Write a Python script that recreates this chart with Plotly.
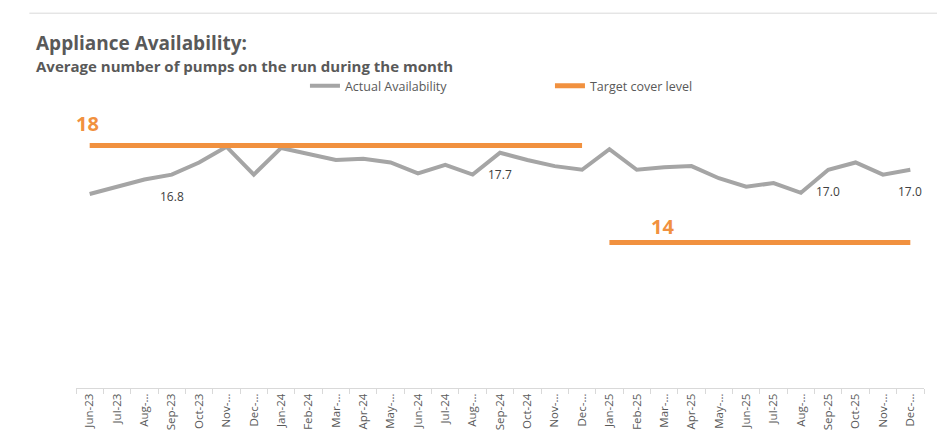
import plotly.graph_objects as go

# Monthly categories, Jun-23 .. Dec-25
months = ["Jun-23", "Jul-23", "Aug-23", "Sep-23", "Oct-23", "Nov-23", "Dec-23",
          "Jan-24", "Feb-24", "Mar-24", "Apr-24", "May-24", "Jun-24", "Jul-24",
          "Aug-24", "Sep-24", "Oct-24", "Nov-24", "Dec-24",
          "Jan-25", "Feb-25", "Mar-25", "Apr-25", "May-25", "Jun-25", "Jul-25",
          "Aug-25", "Sep-25", "Oct-25", "Nov-25", "Dec-25"]

# Axis labels as shown (long month names truncated)
tick_labels = ["Jun-23", "Jul-23", "Aug-…", "Sep-23", "Oct-23", "Nov-…", "Dec-…",
               "Jan-24", "Feb-24", "Mar-…", "Apr-24", "May-…", "Jun-24", "Jul-24",
               "Aug-…", "Sep-24", "Oct-24", "Nov-…", "Dec-…",
               "Jan-25", "Feb-25", "Mar-…", "Apr-25", "May-…", "Jun-25", "Jul-25",
               "Aug-…", "Sep-25", "Oct-25", "Nov-…", "Dec-…"]

# Average pumps on the run per month
actual = [16.0, 16.3, 16.6, 16.8, 17.3, 17.95, 16.8,
          17.9, 17.65, 17.4, 17.45, 17.3, 16.85, 17.2,
          16.8, 17.7, 17.4, 17.15, 17.0,
          17.85, 17.0, 17.1, 17.15, 16.65, 16.3, 16.45,
          16.05, 17.0, 17.3, 16.8, 17.0]

# Target cover level: 18 up to Dec-24, 14 from Jan-25
target_months_a = months[:19]
target_a = [18] * 19
target_months_b = months[19:]
target_b = [14] * 12

# Months whose actual value is labelled
labelled = ["Sep-23", "Sep-24", "Sep-25", "Dec-25"]

GREY = "#a5a5a5"
ORANGE = "#f1913f"
TEXT = "#595959"
FONT = "Open Sans"

fig = go.Figure()

fig.add_trace(go.Scatter(
    x=months, y=actual, mode="lines", name="Actual Availability",
    line=dict(color=GREY, width=4), hoverinfo="x+y"))

fig.add_trace(go.Scatter(
    x=target_months_a, y=target_a, mode="lines", name="Target cover level",
    legendgroup="target", line=dict(color=ORANGE, width=5)))

fig.add_trace(go.Scatter(
    x=target_months_b, y=target_b, mode="lines", name="Target cover level",
    legendgroup="target", showlegend=False, line=dict(color=ORANGE, width=5)))

annotations = []
for m in labelled:
    v = actual[months.index(m)]
    annotations.append(dict(
        x=m, y=v, text=f"{v:.1f}", showarrow=False, yshift=-22,
        font=dict(family=FONT, size=12, color="#404040")))

# Target level labels
annotations.append(dict(
    x=target_months_a[0], y=target_a[0], text=f"<b>{target_a[0]}</b>",
    showarrow=False, yshift=22, xshift=-2,
    font=dict(family=FONT, size=20, color=ORANGE)))
annotations.append(dict(
    x=target_months_b[2], y=target_b[2], text=f"<b>{target_b[2]}</b>",
    showarrow=False, yshift=16, xshift=-2,
    font=dict(family=FONT, size=20, color=ORANGE)))

# Title and subtitle
annotations.append(dict(
    xref="paper", yref="paper", x=-0.049, y=1.186, xanchor="left", yanchor="middle",
    text="<b>Appliance Availability:</b>", showarrow=False,
    font=dict(family=FONT, size=19, color=TEXT)))
annotations.append(dict(
    xref="paper", yref="paper", x=-0.049, y=1.107, xanchor="left", yanchor="middle",
    text="<b>Average number of pumps on the run during the month</b>", showarrow=False,
    font=dict(family=FONT, size=15, color=TEXT)))

fig.update_layout(
    width=937, height=432,
    margin=dict(l=76, r=13, t=97, b=44),
    paper_bgcolor="white", plot_bgcolor="white",
    font=dict(family=FONT, color=TEXT),
    showlegend=True,
    legend=dict(orientation="h", x=0.27, y=1.037, xanchor="left", yanchor="middle",
                font=dict(family=FONT, size=12.5, color=TEXT),
                entrywidth=200, entrywidthmode="pixels",
                bgcolor="rgba(0,0,0,0)"),
    annotations=annotations,
    shapes=[dict(type="line", xref="paper", yref="paper",
                 x0=-0.055, x1=1.02, y0=1.288, y1=1.288,
                 line=dict(color="#d9d9d9", width=1))],
)

fig.update_xaxes(
    type="category", categoryorder="array", categoryarray=months,
    tickmode="array", tickvals=months, ticktext=tick_labels,
    tickangle=-90, tickfont=dict(family=FONT, size=11.5, color=TEXT),
    showgrid=False, showline=True, linecolor="#d9d9d9", linewidth=1,
    ticks="outside", tickson="boundaries", ticklen=5, tickcolor="#d9d9d9",
    range=[-0.5, 30.5], zeroline=False, automargin=False)

fig.update_yaxes(range=[8, 20], visible=False, showgrid=False, zeroline=False,
                 automargin=False)

fig.write_html("out.html")
